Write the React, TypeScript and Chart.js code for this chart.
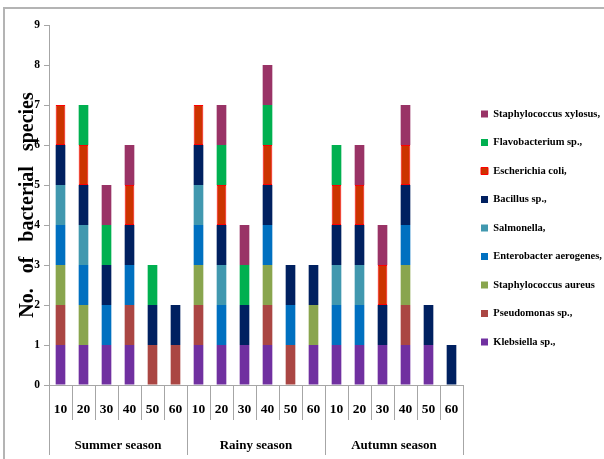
import React, { useEffect, useRef } from "react";
import { Chart, registerables } from "chart.js";

Chart.register(...registerables);

const depths = ["10", "20", "30", "40", "50", "60", "10", "20", "30", "40", "50", "60", "10", "20", "30", "40", "50", "60"];
const seasons = ["Summer season", "Rainy season", "Autumn season"];
const yTicks = [0, 1, 2, 3, 4, 5, 6, 7, 8, 9];

// presence (1) / absence (0) per depth, bottom to top of each stack
const klebsiella = [1, 1, 1, 1, 0, 0, 1, 1, 1, 1, 0, 1, 1, 1, 1, 1, 1, 0];
const pseudomonas = [1, 0, 0, 1, 1, 1, 1, 0, 0, 1, 1, 0, 0, 0, 0, 1, 0, 0];
const staphAureus = [1, 1, 0, 0, 0, 0, 1, 0, 0, 1, 0, 1, 0, 0, 0, 1, 0, 0];
const enterobacter = [1, 1, 1, 1, 0, 0, 1, 1, 0, 1, 1, 0, 1, 1, 0, 1, 0, 0];
const salmonella = [1, 1, 0, 0, 0, 0, 1, 1, 0, 0, 0, 0, 1, 1, 0, 0, 0, 0];
const bacillus = [1, 1, 1, 1, 1, 1, 1, 1, 1, 1, 1, 1, 1, 1, 1, 1, 1, 1];
const eColi = [1, 1, 0, 1, 0, 0, 1, 1, 0, 1, 0, 0, 1, 1, 1, 1, 0, 0];
const flavobacterium = [0, 1, 1, 0, 1, 0, 0, 1, 1, 1, 0, 0, 1, 0, 0, 0, 0, 0];
const staphXylosus = [0, 0, 1, 1, 0, 0, 0, 1, 1, 1, 0, 0, 0, 1, 1, 1, 0, 0];

const seriesNames = [
  "Klebsiella sp.,",
  "Pseudomonas sp.,",
  "Staphylococcus aureus",
  "Enterobacter aerogenes,",
  "Salmonella,",
  "Bacillus sp.,",
  "Escherichia coli,",
  "Flavobacterium sp.,",
  "Staphylococcus xylosus,",
];
const seriesValues = [klebsiella, pseudomonas, staphAureus, enterobacter, salmonella, bacillus, eColi, flavobacterium, staphXylosus];
const seriesColors = ["#7030A0", "#AA4643", "#89A54E", "#0070C0", "#4198AF", "#002060", "#CC3300", "#00B050", "#993366"];
const seriesBorders = ["#7030A0", "#AA4643", "#89A54E", "#0070C0", "#4198AF", "#002060", "#FF0000", "#00B050", "#993366"];

const FONT = "'Liberation Serif', 'Times New Roman', serif";

const legendShift = {
  id: "legendShift",
  afterLayout(chart: any) {
    const l = chart.legend;
    if (l) {
      l.top -= 14;
      l.bottom -= 14;
    }
  },
};

export default function App() {
  const ref = useRef<HTMLCanvasElement | null>(null);

  useEffect(() => {
    if (!ref.current) return;
    const datasets = seriesNames.map((name, i) => ({
      label: name,
      data: seriesValues[i].map((v) => (v === 0 ? null : v)),
      backgroundColor: seriesColors[i],
      borderColor: seriesBorders[i],
      borderWidth: i === 6 ? 1 : 0,
      borderSkipped: false as const,
      barPercentage: 0.42,
      categoryPercentage: 1,
    }));

    const chart = new Chart(ref.current, {
      type: "bar",
      data: { labels: depths, datasets },
      plugins: [legendShift],
      options: {
        animation: false,
        responsive: false,
        maintainAspectRatio: false,
        layout: { padding: { left: 0, top: 25, right: 2, bottom: 0 } },
        plugins: {
          tooltip: { enabled: false },
          legend: {
            position: "right",
            align: "center",
            reverse: true,
            maxWidth: 139,
            labels: {
              boxWidth: 7,
              boxHeight: 7,
              padding: 18,
              color: "#000",
              font: { family: FONT, size: 10.5, weight: "bold" },
            },
          },
        },
        scales: {
          x: {
            stacked: true,
            offset: true,
            grid: {
              offset: true,
              drawOnChartArea: false,
              tickLength: 35,
              color: "#a6a6a6",
            },
            border: { color: "#a6a6a6" },
            ticks: {
              padding: -19,
              color: "#000",
              font: { family: FONT, size: 13.5, weight: "bold" },
              maxRotation: 0,
              autoSkip: false,
            },
            afterFit: (s: any) => {
              s.height = 34;
            },
          },
          x2: {
            type: "category",
            labels: seasons,
            position: "bottom",
            offset: true,
            grid: {
              offset: true,
              drawOnChartArea: false,
              tickLength: 36,
              color: "#a6a6a6",
            },
            border: { display: false },
            ticks: {
              padding: -17,
              color: "#000",
              font: { family: FONT, size: 13, weight: "bold" },
              maxRotation: 0,
              autoSkip: false,
            },
            afterFit: (s: any) => {
              s.height = 40;
            },
          },
          y: {
            stacked: true,
            min: 0,
            max: 9,
            afterBuildTicks: (s: any) => {
              s.ticks = yTicks.map((v) => ({ value: v }));
            },
            grid: {
              drawOnChartArea: false,
              tickLength: 5,
              color: "#a6a6a6",
            },
            border: { color: "#a6a6a6" },
            ticks: {
              padding: 4,
              color: "#000",
              font: { family: FONT, size: 11.5, weight: "bold" },
            },
            title: {
              display: true,
              text: "No.   of   bacterial   species",
              color: "#000",
              font: { family: FONT, size: 20, weight: "bold" },
              padding: { top: 16, bottom: 0 },
            },
            afterFit: (s: any) => {
              s.width = 49;
            },
          },
        },
      },
    });
    return () => chart.destroy();
  }, []);

  return (
    <div style={{ position: "fixed", left: 0, top: 0, width: 604, height: 459, background: "#fff", overflow: "hidden" }}>
      <div
        style={{
          position: "absolute",
          left: 3,
          top: 7,
          width: 640,
          height: 480,
          borderTop: "2px solid #b4b4b4",
          borderLeft: "2px solid #b4b4b4",
          pointerEvents: "none",
        }}
      />
      <canvas ref={ref} width={604} height={459} style={{ position: "absolute", left: 0, top: 0, width: 604, height: 459 }} />
    </div>
  );
}
